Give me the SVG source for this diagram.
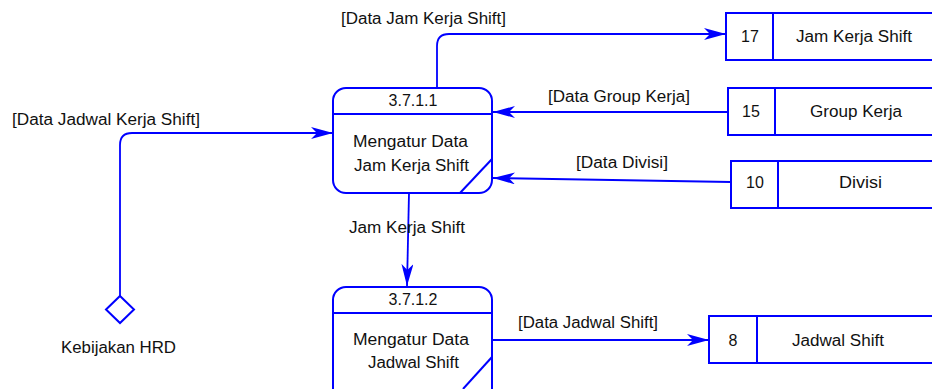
<svg xmlns="http://www.w3.org/2000/svg" width="932" height="389" viewBox="0 0 932 389">
<defs>
<style>
text{font-family:"Liberation Sans",Arial,sans-serif;font-size:16px;fill:#111}
.box{fill:#fff;stroke:#0000ff;stroke-width:2}
.ln{fill:none;stroke:#0000ff;stroke-width:2}
.conn{fill:none;stroke:#0000ff;stroke-width:1.8}
.mid{text-anchor:middle}
</style>
<marker id="arr" viewBox="0 0 22 12" refX="22" refY="6" markerWidth="22" markerHeight="12" orient="auto" markerUnits="userSpaceOnUse">
<path d="M0,0 L22,6 L0,12 L6,6 z" fill="#0000ff"/>
</marker>
</defs>
<rect width="932" height="389" fill="#fff"/>

<g id="connectors">
<path class="conn" d="M437,88 V46 Q437,34 449,34 H726" marker-end="url(#arr)"/>
<path class="conn" d="M728,112 H493" marker-end="url(#arr)"/>
<path class="conn" d="M731,182 L493,178" marker-end="url(#arr)"/>
<path class="conn" d="M120,296 V145 Q120,133 132,133 H333" marker-end="url(#arr)"/>
<path class="conn" d="M409,193 L407,286" marker-end="url(#arr)"/>
<path class="conn" d="M492,340 H709" marker-end="url(#arr)"/>
<text x="341" y="24" textLength="165" lengthAdjust="spacingAndGlyphs">[Data Jam Kerja Shift]</text>
<text x="548" y="102" textLength="142" lengthAdjust="spacingAndGlyphs">[Data Group Kerja]</text>
<text x="576" y="168" textLength="92" lengthAdjust="spacingAndGlyphs">[Data Divisi]</text>
<text x="12" y="125" textLength="188" lengthAdjust="spacingAndGlyphs">[Data Jadwal Kerja Shift]</text>
<text x="349" y="233" textLength="116" lengthAdjust="spacingAndGlyphs">Jam Kerja Shift</text>
<text x="518" y="328" textLength="140" lengthAdjust="spacingAndGlyphs">[Data Jadwal Shift]</text>
</g>

<g id="process-3711">
<rect class="box" x="333" y="88" width="159" height="105" rx="13"/>
<line class="ln" x1="333" y1="114" x2="492" y2="114"/>
<line class="ln" x1="460" y1="193" x2="492" y2="159"/>
<text class="mid" x="413" y="106">3.7.1.1</text>
<text x="353" y="147" textLength="115" lengthAdjust="spacingAndGlyphs">Mengatur Data</text>
<text x="354" y="171" textLength="115" lengthAdjust="spacingAndGlyphs">Jam Kerja Shift</text>
</g>

<g id="process-3712">
<rect class="box" x="333" y="287" width="159" height="120" rx="13"/>
<line class="ln" x1="333" y1="313" x2="492" y2="313"/>
<line class="ln" x1="463" y1="389" x2="492" y2="357"/>
<text class="mid" x="413" y="305">3.7.1.2</text>
<text x="353" y="345" textLength="116" lengthAdjust="spacingAndGlyphs">Mengatur Data</text>
<text x="368" y="368" textLength="91" lengthAdjust="spacingAndGlyphs">Jadwal Shift</text>
</g>

<g id="store-17">
<rect class="box" x="726" y="13" width="220" height="47"/>
<line class="ln" x1="773" y1="13" x2="773" y2="60"/>
<text class="mid" x="750" y="42">17</text>
<text x="796" y="42" textLength="116" lengthAdjust="spacingAndGlyphs">Jam Kerja Shift</text>
</g>

<g id="store-15">
<rect class="box" x="728" y="88" width="220" height="47"/>
<line class="ln" x1="775" y1="88" x2="775" y2="135"/>
<text class="mid" x="751" y="117">15</text>
<text x="810" y="117" textLength="92" lengthAdjust="spacingAndGlyphs">Group Kerja</text>
</g>

<g id="store-10">
<rect class="box" x="731" y="161" width="220" height="47"/>
<line class="ln" x1="778" y1="161" x2="778" y2="208"/>
<text class="mid" x="755" y="188">10</text>
<text x="839" y="188" textLength="43" lengthAdjust="spacingAndGlyphs">Divisi</text>
</g>

<g id="store-8">
<rect class="box" x="709" y="316" width="240" height="47"/>
<line class="ln" x1="757" y1="316" x2="757" y2="363"/>
<text class="mid" x="733" y="346">8</text>
<text x="792" y="346" textLength="92" lengthAdjust="spacingAndGlyphs">Jadwal Shift</text>
</g>

<g id="external-kebijakan-hrd">
<path class="box" d="M120,296 L134,309.5 L120,323 L106,309.5 z"/>
<text x="61" y="353" textLength="115" lengthAdjust="spacingAndGlyphs">Kebijakan HRD</text>
</g>
</svg>
